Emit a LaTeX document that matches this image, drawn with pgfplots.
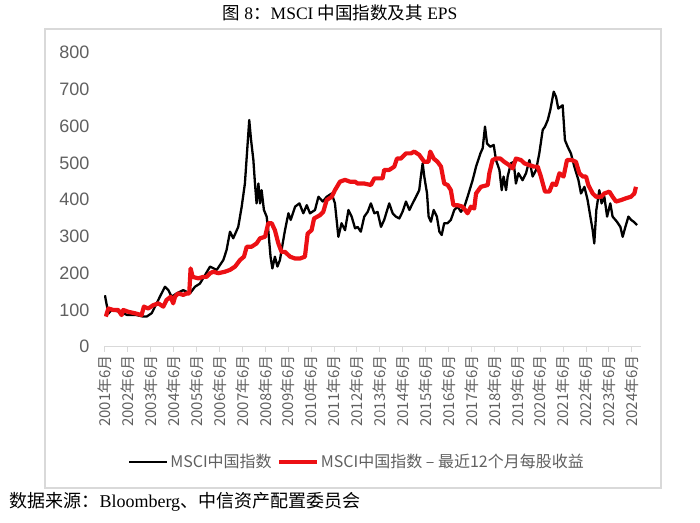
\documentclass[border=0pt]{standalone}
\usepackage{pgfplots}
\pgfplotsset{compat=1.18}
\usepackage{fontspec}
\setmainfont{Liberation Serif}
\newfontfamily\cjk{Noto Sans CJK SC}
\newfontfamily\tickfont{Liberation Sans}
\definecolor{myred}{RGB}{236,16,20}
\definecolor{lab}{RGB}{96,96,96}
\definecolor{framec}{RGB}{217,217,217}

\pgfplotstableread{
x y
2001.50 140
2001.65 90
2001.79 100
2002.16 95
2002.48 86
2002.88 86
2003.17 82
2003.32 82
2003.54 91
2003.76 118
2003.90 136
2004.12 163
2004.27 154
2004.41 136
2004.63 145
2004.92 154
2005.21 145
2005.43 163
2005.65 172
2005.87 195
2006.09 218
2006.38 209
2006.67 236
2006.81 263
2006.96 313
2007.10 295
2007.32 326
2007.47 381
2007.61 444
2007.72 544
2007.80 617
2007.88 562
2007.98 508
2008.05 444
2008.12 390
2008.20 444
2008.27 390
2008.34 426
2008.44 372
2008.56 354
2008.63 317
2008.73 245
2008.81 213
2008.92 245
2009.03 218
2009.14 236
2009.26 281
2009.36 317
2009.51 363
2009.61 345
2009.80 381
2009.99 390
2010.16 363
2010.31 385
2010.45 363
2010.67 372
2010.82 408
2011.01 395
2011.18 408
2011.40 417
2011.54 390
2011.69 299
2011.83 336
2011.98 317
2012.13 372
2012.27 354
2012.42 322
2012.53 326
2012.67 313
2012.82 354
2012.97 367
2013.11 390
2013.26 363
2013.40 367
2013.55 326
2013.69 345
2013.91 390
2014.06 363
2014.20 354
2014.35 349
2014.49 367
2014.64 395
2014.79 372
2014.93 390
2015.08 408
2015.22 426
2015.29 463
2015.37 499
2015.44 463
2015.56 417
2015.63 354
2015.73 340
2015.85 372
2015.99 354
2016.10 313
2016.20 304
2016.31 336
2016.46 336
2016.60 345
2016.75 372
2016.90 381
2017.04 367
2017.19 381
2017.33 408
2017.55 453
2017.70 490
2017.89 526
2017.99 540
2018.09 599
2018.18 553
2018.32 544
2018.47 549
2018.57 508
2018.72 481
2018.82 426
2018.90 463
2019.01 426
2019.08 463
2019.22 499
2019.34 503
2019.44 444
2019.55 472
2019.73 453
2019.88 472
2020.03 508
2020.17 463
2020.32 481
2020.46 526
2020.61 590
2020.71 599
2020.83 617
2020.94 644
2021.09 694
2021.19 680
2021.29 648
2021.48 657
2021.58 562
2021.70 544
2021.84 526
2021.99 490
2022.17 453
2022.28 417
2022.43 435
2022.57 399
2022.69 354
2022.79 317
2022.86 281
2022.95 372
2023.08 426
2023.18 390
2023.30 408
2023.42 354
2023.56 390
2023.66 354
2023.85 340
2024.00 326
2024.10 299
2024.20 322
2024.35 354
2024.47 345
2024.58 340
2024.73 331
}\blackdata

\pgfplotstableread{
x y
2001.54 82
2001.65 104
2001.86 100
2002.08 100
2002.23 86
2002.30 100
2002.52 95
2002.81 91
2003.10 86
2003.20 109
2003.39 104
2003.61 113
2003.83 118
2004.05 109
2004.19 127
2004.37 136
2004.48 118
2004.56 136
2004.70 145
2004.92 141
2005.07 145
2005.18 145
2005.24 213
2005.33 190
2005.58 186
2005.79 190
2005.94 190
2006.09 200
2006.23 204
2006.45 200
2006.74 204
2006.96 209
2007.18 218
2007.40 236
2007.57 245
2007.69 272
2007.90 272
2008.12 281
2008.27 295
2008.49 299
2008.63 336
2008.78 336
2008.92 317
2009.07 281
2009.21 258
2009.36 258
2009.58 245
2009.80 240
2010.02 240
2010.23 245
2010.35 308
2010.52 317
2010.63 349
2010.89 358
2011.03 367
2011.18 399
2011.40 408
2011.54 426
2011.76 449
2011.98 454
2012.20 449
2012.42 449
2012.53 444
2012.82 444
2013.11 440
2013.26 458
2013.62 458
2013.69 481
2013.91 481
2014.13 490
2014.25 512
2014.42 512
2014.64 526
2014.86 526
2015.00 531
2015.22 522
2015.44 503
2015.62 503
2015.70 531
2015.85 512
2016.02 503
2016.17 490
2016.31 444
2016.46 440
2016.60 426
2016.71 385
2016.90 385
2017.11 381
2017.33 363
2017.48 381
2017.62 376
2017.70 417
2017.91 435
2018.21 440
2018.28 472
2018.42 508
2018.57 512
2018.76 512
2018.93 503
2019.15 494
2019.30 485
2019.44 512
2019.66 508
2019.81 499
2020.03 494
2020.24 490
2020.39 490
2020.53 463
2020.71 422
2020.90 422
2021.04 444
2021.19 440
2021.34 472
2021.52 463
2021.67 508
2021.87 508
2022.06 503
2022.21 472
2022.36 463
2022.50 463
2022.60 440
2022.79 417
2022.94 408
2023.16 408
2023.30 417
2023.52 422
2023.66 408
2023.81 395
2024.03 399
2024.25 404
2024.46 408
2024.61 417
2024.68 435
}\reddata

\begin{document}
\begin{tikzpicture}
\path[use as bounding box] (0pt,0pt) rectangle (700pt,522pt);
\draw[framec, line width=1.3pt] (45pt,34pt) rectangle (661pt,493pt);
\node at (340pt,509pt) {\fontsize{17.5}{20}\selectfont{\cjk 图} 8{\cjk ：}MSCI {\cjk 中国指数及其} EPS};
\node[anchor=west] at (6pt,20pt) {\fontsize{18}{20}\selectfont{\cjk 数据来源：}Bloomberg{\cjk 、中信资产配置委员会}};
\begin{axis}[
  at={(104pt,175.3pt)}, anchor=south west,
  scale only axis, width=537pt, height=294pt,
  xmin=2001.46, xmax=2024.9, ymin=0, ymax=800,
  axis x line=bottom, axis y line=left,
  x axis line style={draw=framec, line width=1pt, -},
  y axis line style={draw=none},
  xtick={2001.5,2002.5,2003.5,2004.5,2005.5,2006.5,2007.5,2008.5,2009.5,2010.5,2011.5,2012.5,2013.5,2014.5,2015.5,2016.5,2017.5,2018.5,2019.5,2020.5,2021.5,2022.5,2023.5,2024.5},
  xticklabels={2001年6月,2002年6月,2003年6月,2004年6月,2005年6月,2006年6月,2007年6月,2008年6月,2009年6月,2010年6月,2011年6月,2012年6月,2013年6月,2014年6月,2015年6月,2016年6月,2017年6月,2018年6月,2019年6月,2020年6月,2021年6月,2022年6月,2023年6月,2024年6月},
  xticklabel style={rotate=90, anchor=east, font=\cjk\fontsize{15}{17}\selectfont, text=lab},
  xtick style={draw=framec, line width=1pt},
  tick align=outside, major tick length=5pt,
  ytick={0,100,200,300,400,500,600,700,800},
  ytick style={draw=none},
  yticklabel style={font=\tickfont\fontsize{18}{20}\selectfont, text=lab, xshift=-6pt},
  /pgf/number format/assume math mode=true,
  legend style={at={(0.471,-0.392)}, anchor=center, draw=none, fill=none,
    font=\cjk\fontsize{16}{18}\selectfont, text=lab, inner sep=0pt,
    /tikz/every even column/.append style={column sep=3pt}},
  legend columns=2,
  legend image code/.code={\draw[#1] (0pt,0pt) -- (38pt,0pt);},
]
\addplot[black, line width=2.3pt, line join=round] table[x=x,y=y] {\blackdata};
\addlegendentry{MSCI中国指数}
\addplot[myred, line width=4.2pt, line join=round] table[x=x,y=y] {\reddata};
\addlegendentry{MSCI中国指数 – 最近12个月每股收益}
\end{axis}
\end{tikzpicture}
\end{document}
